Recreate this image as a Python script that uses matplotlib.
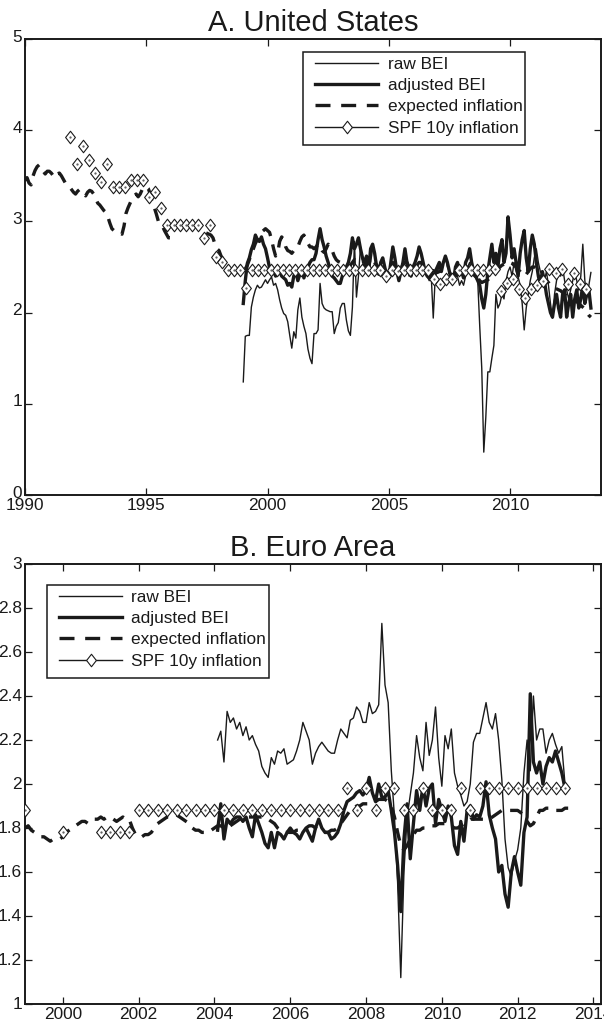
import numpy as np
import matplotlib
matplotlib.use("Agg")
import matplotlib.pyplot as plt
from matplotlib.lines import Line2D
from matplotlib.patches import Rectangle
from matplotlib.path import Path
from matplotlib.transforms import ScaledTranslation

plt.rcParams['font.family'] = ['Liberation Sans', 'DejaVu Sans']

# ---------------- United States (monthly, %) ----------------
us_exp_start = 1990.0
us_expected = [
    3.45, 3.48, 3.42, 3.40, 3.50, 3.56, 3.60, 3.62, 3.58, 3.55, 3.52, 3.55,
    3.55, 3.53, 3.50, 3.48, 3.52, 3.53, 3.50, 3.46, 3.42, 3.40, 3.38, 3.35,
    3.32, 3.30, 3.33, 3.35, 3.32, 3.30, 3.28, 3.32, 3.34, 3.33, 3.30, 3.25,
    3.20, 3.18, 3.15, 3.12, 3.10, 3.05, 2.98, 2.92, 2.90, 2.88, 2.88, 2.87,
    2.86, 2.95, 3.09, 3.15, 3.20, 3.25, 3.28, 3.30, 3.27, 3.30, 3.35, 3.38,
    3.38, 3.36, 3.30, 3.20, 3.15, 3.08, 3.00, 2.98, 2.95, 2.90, 2.86, 2.82,
    2.82, 2.88, 2.92, 2.96, 2.95, 2.96, 2.94, 2.96, 2.95, 2.96, 2.95, 2.97,
    2.95, 2.96, 2.94, 2.92, 2.90, 2.88, 2.87, 2.86, 2.85, 2.82, 2.75, 2.70,
    2.68, 2.62, 2.58, 2.55, 2.50, 2.47, 2.45, 2.44, 2.45, 2.44, 2.46, 2.45,
    2.45, 2.48, 2.52, 2.58, 2.65, 2.70, 2.76, 2.80, 2.85, 2.88, 2.90, 2.92,
    2.90, 2.88, 2.80, 2.70, 2.62, 2.65, 2.78, 2.83, 2.80, 2.72, 2.68, 2.67,
    2.65, 2.68, 2.69, 2.72, 2.78, 2.83, 2.85, 2.80, 2.76, 2.72, 2.72, 2.70,
    2.72, 2.75, 2.72, 2.68, 2.66, 2.70, 2.75, 2.72, 2.68, 2.62, 2.58, 2.56,
    2.55, 2.56, 2.55, 2.52, 2.50, 2.52, 2.55, 2.58, 2.56, 2.55, 2.53, 2.52,
    2.52, 2.50, 2.55, 2.58, 2.60, 2.55, 2.52, 2.50, 2.48, 2.50, 2.52, 2.50,
    2.48, 2.50, 2.55, 2.52, 2.48, 2.46, 2.48, 2.52, 2.55, 2.55, 2.50, 2.48,
    2.48, 2.50, 2.52, 2.55, 2.55, 2.50, 2.47, 2.45, 2.44, 2.45, 2.46, 2.45,
    2.44, 2.45, 2.46, 2.47, 2.48, 2.46, 2.44, 2.40, 2.38, 2.40, 2.42, 2.44,
    2.45, 2.46, 2.48, 2.50, 2.50, 2.48, 2.44, 2.40, 2.38, 2.35, 2.33, 2.34,
    2.35, 2.36, 2.38, 2.40, 2.42, 2.45, 2.48, 2.50, 2.52, 2.53, 2.55, 2.56,
    2.55, 2.54, 2.52, 2.50, 2.47, 2.45, 2.42, 2.40, 2.42, 2.45, 2.48, 2.50,
    2.50, 2.48, 2.46, 2.42, 2.38, 2.36, 2.35, 2.33, 2.30, 2.28, 2.27, 2.26,
    2.25, 2.24, 2.22, 2.20, 2.18, 2.17, 2.16, 2.15, 2.14, 2.12, 2.10, 2.08,
    2.06, 2.04, 2.00, 1.97, 1.95,
]

us_bei_start = 1999.0
us_raw_bei = [
    1.24, 1.74, 1.75, 1.75, 2.06, 2.17, 2.25, 2.30, 2.27, 2.28, 2.32, 2.36,
    2.32, 2.36, 2.39, 2.30, 2.32, 2.25, 2.14, 2.05, 1.99, 1.97, 1.90, 1.75,
    1.61, 1.79, 1.72, 2.03, 2.16, 1.95, 1.85, 1.77, 1.60, 1.50, 1.44, 1.77,
    1.77, 1.81, 2.32, 2.10, 2.05, 2.03, 2.02, 2.01, 2.01, 1.77, 1.85, 1.89,
    2.05, 2.10, 2.10, 1.92, 1.80, 1.75, 2.06, 2.78, 2.17, 2.40, 2.72, 2.55,
    2.50, 2.60, 2.45, 2.55, 2.70, 2.65, 2.50, 2.45, 2.55, 2.60, 2.50, 2.45,
    2.40, 2.55, 2.70, 2.60, 2.45, 2.40, 2.50, 2.55, 2.65, 2.50, 2.40, 2.45,
    2.50, 2.55, 2.60, 2.70, 2.65, 2.55, 2.45, 2.40, 2.35, 2.40, 1.94, 2.40,
    2.45, 2.50, 2.45, 2.55, 2.60, 2.50, 2.45, 2.40, 2.35, 2.45, 2.40, 2.30,
    2.35, 2.30, 2.40, 2.50, 2.55, 2.45, 2.40, 2.38, 2.35, 1.85, 1.39, 0.47,
    0.85, 1.35, 1.35, 1.50, 1.64, 2.20, 2.05, 2.10, 2.20, 2.15, 2.35, 2.45,
    2.50, 2.40, 2.55, 2.45, 2.39, 2.30, 2.10, 1.81, 2.05, 2.20, 2.35, 2.45,
    2.60, 2.70, 2.55, 2.45, 2.40, 2.35, 2.45, 2.30, 2.10, 1.94, 2.20, 2.35,
    2.45, 2.40, 2.50, 2.35, 2.25, 2.15, 2.25, 2.35, 2.45, 2.35, 2.25, 2.40,
    2.75, 2.35, 2.20, 2.30, 2.44,
]
us_adj_bei = [
    2.10, 2.35, 2.54, 2.60, 2.69, 2.75, 2.85, 2.80, 2.78, 2.83, 2.75, 2.70,
    2.60, 2.49, 2.50, 2.45, 2.40, 2.50, 2.45, 2.40, 2.38, 2.36, 2.30, 2.32,
    2.28, 2.40, 2.45, 2.35, 2.42, 2.48, 2.38, 2.45, 2.50, 2.55, 2.58, 2.58,
    2.65, 2.80, 2.92, 2.80, 2.72, 2.62, 2.55, 2.47, 2.40, 2.38, 2.35, 2.32,
    2.32, 2.40, 2.45, 2.50, 2.55, 2.65, 2.82, 2.70, 2.75, 2.82, 2.70, 2.60,
    2.55, 2.62, 2.45, 2.70, 2.75, 2.65, 2.50, 2.42, 2.55, 2.60, 2.50, 2.40,
    2.38, 2.55, 2.72, 2.60, 2.45, 2.35, 2.45, 2.55, 2.70, 2.55, 2.45, 2.40,
    2.50, 2.55, 2.62, 2.72, 2.65, 2.55, 2.45, 2.40, 2.38, 2.45, 2.35, 2.45,
    2.50, 2.55, 2.45, 2.55, 2.62, 2.55, 2.45, 2.38, 2.35, 2.50, 2.55, 2.42,
    2.45, 2.38, 2.55, 2.60, 2.70, 2.55, 2.45, 2.40, 2.35, 2.30, 2.15, 2.05,
    2.20, 2.45, 2.60, 2.75, 2.55, 2.65, 2.50, 2.70, 2.80, 2.55, 2.65, 3.05,
    2.85, 2.60, 2.70, 2.55, 2.40, 2.65, 2.80, 2.90, 2.60, 2.45, 2.70, 2.85,
    2.75, 2.55, 2.40, 2.30, 2.45, 2.35, 2.20, 2.10, 2.00, 1.95, 2.10, 2.20,
    2.05, 1.95, 2.20, 2.25, 1.95, 2.10, 2.20, 1.95, 2.15, 2.25, 2.05, 2.15,
    2.30, 2.10, 2.20, 2.25, 2.05,
]

# SPF 10-year inflation expectations, quarterly
us_spf_start = 1991.875
us_spf = [
    3.92, 3.63, 3.83, 3.67, 3.53, 3.43, 3.63, 3.38, 3.38, 3.38, 3.45, 3.45,
    3.45, 3.27, 3.32, 3.15, 2.96, 2.96, 2.96, 2.96, 2.96, 2.96, 2.82, 2.96,
    2.61, 2.55, 2.47, 2.47, 2.47, 2.27, 2.47, 2.47, 2.47, 2.47, 2.47, 2.47,
    2.47, 2.47, 2.47, 2.47, 2.47, 2.47, 2.47, 2.47, 2.47, 2.47, 2.47, 2.47,
    2.47, 2.47, 2.47, 2.47, 2.40, 2.47, 2.46, 2.47, 2.47, 2.47, 2.47, 2.47,
    2.37, 2.31, 2.37, 2.37, 2.47, 2.47, 2.47, 2.47, 2.47, 2.47, 2.48, 2.24,
    2.33, 2.37, 2.26, 2.16, 2.26, 2.30, 2.35, 2.48, 2.43, 2.48, 2.31, 2.43,
    2.31, 2.26,
]

# ---------------- Euro Area (monthly, %) ----------------
ea_exp_start = 1999.0
ea_expected = [
    1.80, 1.81, 1.79, 1.78, 1.77, 1.76, 1.76, 1.75, 1.74, 1.75, 1.75, 1.75,
    1.76, 1.78, 1.79, 1.80, 1.81, 1.82, 1.83, 1.83, 1.82, 1.83, 1.84, 1.84,
    1.85, 1.84, 1.85, 1.85, 1.84, 1.83, 1.84, 1.85, 1.84, 1.84, 1.80, 1.77,
    1.76, 1.76, 1.77, 1.77, 1.78, 1.80, 1.82, 1.83, 1.84, 1.85, 1.85, 1.86,
    1.86, 1.85, 1.84, 1.83, 1.82, 1.80, 1.79, 1.79, 1.78, 1.78, 1.78, 1.79,
    1.80, 1.81, 1.81, 1.80, 1.80, 1.81, 1.82, 1.83, 1.84, 1.85, 1.85, 1.85,
    1.85, 1.85, 1.85, 1.85, 1.84, 1.84, 1.83, 1.82, 1.80, 1.79, 1.78, 1.78,
    1.78, 1.78, 1.79, 1.79, 1.80, 1.80, 1.81, 1.81, 1.80, 1.79, 1.78, 1.78,
    1.78, 1.79, 1.79, 1.80, 1.82, 1.84, 1.86, 1.88, 1.89, 1.90, 1.90, 1.91,
    1.91, 1.91, 1.92, 1.92, 1.93, 1.93, 1.93, 1.92, 1.90, 1.85, 1.78, 1.72,
    1.70, 1.72, 1.75, 1.77, 1.79, 1.79, 1.80, 1.80, 1.80, 1.81, 1.81, 1.82,
    1.82, 1.82, 1.81, 1.81, 1.80, 1.80, 1.81, 1.82, 1.83, 1.84, 1.84, 1.84,
    1.84, 1.84, 1.84, 1.84, 1.85, 1.86, 1.87, 1.88, 1.88, 1.88, 1.88, 1.88,
    1.88, 1.87, 1.85, 1.83, 1.81, 1.82, 1.85, 1.88, 1.88, 1.89, 1.89, 1.89,
    1.88, 1.88, 1.88, 1.89, 1.89,
]

ea_bei_start = 2004.0 + 1 / 12
ea_raw_bei = [
    2.20, 2.24, 2.10, 2.33, 2.28, 2.30, 2.25, 2.28, 2.22, 2.26, 2.20,
    2.22, 2.18, 2.15, 2.08, 2.05, 2.03, 2.12, 2.09, 2.15, 2.14, 2.16, 2.09,
    2.10, 2.11, 2.15, 2.20, 2.28, 2.24, 2.20, 2.09, 2.14, 2.17, 2.19, 2.17,
    2.15, 2.14, 2.14, 2.20, 2.25, 2.23, 2.21, 2.29, 2.30, 2.35, 2.33, 2.28,
    2.28, 2.37, 2.32, 2.33, 2.36, 2.73, 2.45, 2.37, 2.06, 1.85, 1.55, 1.12,
    1.60, 1.85, 1.95, 2.05, 2.22, 2.12, 2.06, 2.28, 2.13, 2.20, 2.35, 2.12,
    1.99, 2.22, 2.16, 2.25, 2.05, 1.99, 1.95, 1.90, 1.92, 2.00, 2.19, 2.23,
    2.23, 2.30, 2.37, 2.28, 2.25, 2.32, 2.20, 2.02, 1.75, 1.62, 1.58, 1.65,
    1.70, 1.80, 2.05, 2.20, 2.06, 2.40, 2.20, 2.25, 2.25, 2.14, 2.20, 2.23,
    2.18, 2.14, 2.17, 2.00,
]
ea_adj_bei = [
    1.79, 1.91, 1.75, 1.84, 1.82, 1.84, 1.85, 1.85, 1.83, 1.85, 1.80,
    1.76, 1.86, 1.82, 1.78, 1.73, 1.71, 1.78, 1.71, 1.78, 1.77, 1.75, 1.78,
    1.80, 1.78, 1.77, 1.75, 1.78, 1.80, 1.77, 1.74, 1.80, 1.84, 1.80, 1.78,
    1.78, 1.75, 1.76, 1.78, 1.82, 1.88, 1.92, 1.93, 1.94, 1.96, 1.97, 1.95,
    1.97, 2.03, 1.96, 1.92, 2.00, 1.94, 1.94, 1.97, 1.88, 1.78, 1.63, 1.42,
    1.75, 1.91, 1.66, 1.82, 1.97, 1.88, 1.99, 1.90, 1.98, 2.00, 1.82, 1.93,
    1.88, 1.83, 1.90, 1.85, 1.72, 1.68, 1.83, 1.74, 1.88, 1.90, 1.84, 1.86,
    1.85, 1.90, 2.01, 1.86, 1.80, 1.75, 1.60, 1.63, 1.50, 1.44, 1.60, 1.67,
    1.60, 1.54, 1.78, 1.85, 2.41, 2.10, 2.05, 2.10, 2.00, 2.08, 2.12, 2.10,
    2.15, 2.10, 2.05, 1.98,
]

ea_spf_dates = [1999.0, 2000.0] + [2001.0 + 0.25 * k for k in range(50)]
ea_spf = [
    1.88, 1.78,
    1.78, 1.78, 1.78, 1.78,
    1.88, 1.88, 1.88, 1.88, 1.88, 1.88, 1.88, 1.88, 1.88, 1.88, 1.88, 1.88,
    1.88, 1.88, 1.88, 1.88, 1.88, 1.88, 1.88, 1.88, 1.88, 1.88,
    1.98, 1.88, 1.98, 1.88, 1.98, 1.98, 1.88, 1.88, 1.98, 1.88, 1.88, 1.88,
    1.98, 1.88, 1.98, 1.98, 1.98, 1.98, 1.98, 1.98, 1.98, 1.98, 1.98, 1.98,
]

LABELS = ['raw BEI', 'adjusted BEI', 'expected inflation', 'SPF 10y inflation']

W, H, DPI = 604, 1028, 100
fig = plt.figure(figsize=(W / DPI, H / DPI), dpi=DPI)
fig.patch.set_facecolor('white')

INK = '#1a1a1a'
LW_THIN, LW_THICK = 1.0, 2.4
DASH = (0, (3.8, 2.6))
FS = 12.4
diamond = Path([(0, 1), (0.78, 0), (0, -1), (-0.78, 0), (0, 1)],
               [Path.MOVETO, Path.LINETO, Path.LINETO, Path.LINETO, Path.CLOSEPOLY])


def monthly(start, n):
    return start + np.arange(n) / 12.0


def panel(rect, title, xlim, ylim, yticks, xticks, exp_t, exp_v, raw_t, raw_v,
          adj_t, adj_v, spf_t, spf_v, legend_anchor, ylabel_lift):
    ax = fig.add_axes(rect)
    ax.plot(raw_t, raw_v, color=INK, lw=LW_THIN, zorder=3)
    ax.plot(adj_t, adj_v, color=INK, lw=LW_THICK, zorder=3)
    ax.plot(exp_t, exp_v, color=INK, lw=LW_THICK, ls=DASH, zorder=3)
    ax.plot(spf_t, spf_v, ls='none', marker=diamond, ms=9.0, mfc='white',
            mec=INK, mew=0.8, zorder=4)
    ax.plot(spf_t, spf_v, ls='none', marker='.', ms=1.2, color='#555555', zorder=4)
    ax.set_xlim(*xlim)
    ax.set_ylim(*ylim)
    ax.set_yticks(yticks)
    ax.set_yticklabels(['%g' % v for v in yticks])
    ax.set_xticks(xticks)
    ax.set_xticklabels(['%d' % v for v in xticks])
    ax.tick_params(direction='in', top=True, right=True, length=5, width=0.9,
                   labelsize=FS, pad=2, colors=INK)
    lift = ScaledTranslation(0, ylabel_lift / 72.0, fig.dpi_scale_trans)
    for lab in ax.get_yticklabels():
        lab.set_transform(lab.get_transform() + lift)
    for s in ax.spines.values():
        s.set_linewidth(1.4)
        s.set_color(INK)
    ax.set_title(title, fontsize=21, pad=6, color=INK)

    handles = [
        Line2D([], [], color=INK, lw=LW_THIN),
        Line2D([], [], color=INK, lw=LW_THICK),
        Line2D([], [], color=INK, lw=LW_THICK, ls=(0, (4.5, 3.2))),
        Line2D([], [], color=INK, lw=LW_THIN, marker=diamond, ms=9.0,
               mfc='white', mec=INK, mew=0.8),
    ]
    leg = ax.legend(handles, LABELS, loc='upper left', bbox_to_anchor=legend_anchor,
                    frameon=False, fontsize=FS, handlelength=3.66, handletextpad=0.55,
                    labelspacing=0.37, borderpad=0.0, borderaxespad=0.0)
    for t in leg.get_texts():
        t.set_color(INK)
    leg.set_zorder(6)
    return ax, leg


ax1, leg1 = panel([25 / W, 1 - 495 / H, 576 / W, 456 / H], 'A. United States',
                  (1990, 2013.75), (0, 5), [0, 1, 2, 3, 4, 5],
                  [1990, 1995, 2000, 2005, 2010],
                  monthly(us_exp_start, len(us_expected)), us_expected,
                  monthly(us_bei_start, len(us_raw_bei)), us_raw_bei,
                  monthly(us_bei_start, len(us_adj_bei)), us_adj_bei,
                  us_spf_start + 0.25 * np.arange(len(us_spf)), us_spf,
                  (0.5035, 0.9616), 2.5)

ax2, leg2 = panel([25 / W, 1 - 1004 / H, 576 / W, 440 / H], 'B. Euro Area',
                  (1999, 2014.2), (1, 3), [1, 1.2, 1.4, 1.6, 1.8, 2, 2.2, 2.4, 2.6, 2.8, 3],
                  list(range(2000, 2015, 2)),
                  monthly(ea_exp_start, len(ea_expected)), ea_expected,
                  monthly(ea_bei_start, len(ea_raw_bei)), ea_raw_bei,
                  monthly(ea_bei_start, len(ea_adj_bei)), ea_adj_bei,
                  ea_spf_dates, ea_spf,
                  (0.0590, 0.942), 1.0)

# legend boxes: wider padding on the handle side, MATLAB-like
fig.canvas.draw()
for ax, leg in ((ax1, leg1), (ax2, leg2)):
    bb = leg.get_window_extent()
    pl, pr, pt, pb = 12, 3, 5, 9
    (x0, y0), (x1, y1) = ax.transAxes.inverted().transform(
        [(bb.x0 - pl, bb.y0 - pb), (bb.x1 + pr, bb.y1 + pt)])
    ax.add_patch(Rectangle((x0, y0), x1 - x0, y1 - y0, transform=ax.transAxes,
                           facecolor='white', edgecolor=INK, lw=1.1, zorder=5.5))

fig.savefig('out.png', dpi=DPI, facecolor='white')
